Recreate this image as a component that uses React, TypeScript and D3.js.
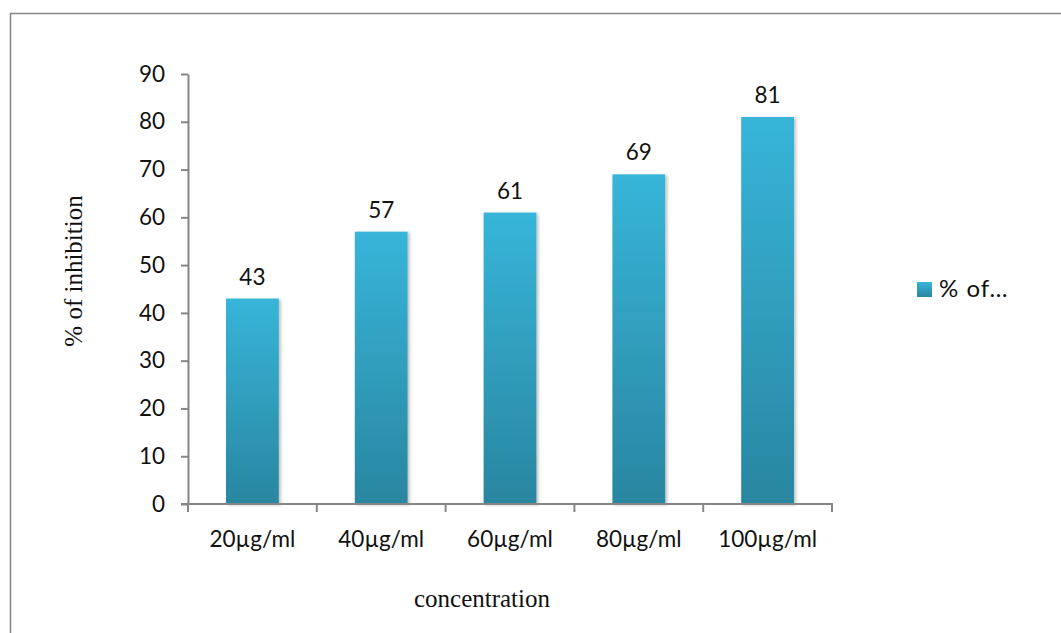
import React, { useEffect, useRef } from 'react';
import * as d3 from 'd3';

const categories = ['20µg/ml', '40µg/ml', '60µg/ml', '80µg/ml', '100µg/ml'];
const inhibition = [43, 57, 61, 69, 81];
const yTicks = [0, 10, 20, 30, 40, 50, 60, 70, 80, 90];

const App = () => {
  const svgRef = useRef<SVGSVGElement>(null);

  useEffect(() => {
    const width = 1061;
    const height = 633;
    const plot = { left: 188, right: 832, top: 74, bottom: 504 };
    const font = 'Lato, "Open Sans", sans-serif';
    const serif = '"Liberation Serif", "Times New Roman", serif';
    const axisColor = '#868686';
    const fs = 22.5;

    const svg = d3.select(svgRef.current);
    svg.selectAll('*').remove();
    svg.attr('width', width).attr('height', height);

    // gradient for bars
    const defs = svg.append('defs');
    const grad = defs.append('linearGradient')
      .attr('id', 'barGrad')
      .attr('x1', 0).attr('y1', 0).attr('x2', 0).attr('y2', 1);
    grad.append('stop').attr('offset', '0%').attr('stop-color', '#37b5d9');
    grad.append('stop').attr('offset', '100%').attr('stop-color', '#2986a0');

    const shadow = defs.append('filter').attr('id', 'shadow')
      .attr('x', '-20%').attr('y', '-20%').attr('width', '150%').attr('height', '150%');
    shadow.append('feDropShadow')
      .attr('dx', 2).attr('dy', 1).attr('stdDeviation', 1.5)
      .attr('flood-color', '#000').attr('flood-opacity', 0.25);

    svg.append('rect').attr('width', width).attr('height', height).attr('fill', '#fff');

    // outer border
    svg.append('path')
      .attr('d', `M${width},13.5 H10.5 V${height}`)
      .attr('fill', 'none')
      .attr('stroke', axisColor)
      .attr('stroke-width', 1.5);

    const x = d3.scaleBand()
      .domain(categories)
      .range([plot.left, plot.right])
      .paddingInner(0.59)
      .paddingOuter(0.295);

    const y = d3.scaleLinear()
      .domain([0, 90])
      .range([plot.bottom, plot.top]);

    // bars
    svg.selectAll('rect.bar')
      .data(inhibition)
      .enter()
      .append('rect')
      .attr('class', 'bar')
      .attr('x', (d, i) => x(categories[i]))
      .attr('y', d => y(d))
      .attr('width', x.bandwidth())
      .attr('height', d => y(0) - y(d))
      .attr('fill', 'url(#barGrad)')
      .attr('filter', 'url(#shadow)');

    // data labels
    svg.selectAll('text.lbl')
      .data(inhibition)
      .enter()
      .append('text')
      .attr('class', 'lbl')
      .attr('x', (d, i) => x(categories[i]) + x.bandwidth() / 2)
      .attr('y', d => y(d) - 14)
      .attr('text-anchor', 'middle')
      .attr('font-family', font)
      .attr('font-size', fs)
      .attr('fill', '#111')
      .text(d => d);

    // y axis
    const yAxis = d3.axisLeft(y).tickValues(yTicks).tickSize(7).tickPadding(16).tickSizeOuter(0);
    const gy = svg.append('g')
      .attr('transform', `translate(${plot.left},0)`)
      .call(yAxis);
    gy.selectAll('line, path').attr('stroke', axisColor).attr('stroke-width', 2);
    gy.selectAll('text')
      .attr('font-family', font)
      .attr('font-size', fs)
      .attr('fill', '#111');

    // x axis
    const gx = svg.append('g').attr('transform', `translate(0,${plot.bottom})`);
    gx.append('line')
      .attr('x1', plot.left - 7).attr('x2', plot.right + 1)
      .attr('stroke', axisColor).attr('stroke-width', 2);
    const bounds = d3.range(categories.length + 1).map(i => plot.left + i * x.step());
    gx.selectAll('line.tick')
      .data(bounds)
      .enter()
      .append('line')
      .attr('class', 'tick')
      .attr('x1', d => d).attr('x2', d => d)
      .attr('y1', 0).attr('y2', 8)
      .attr('stroke', axisColor).attr('stroke-width', 2);
    gx.selectAll('text')
      .data(categories)
      .enter()
      .append('text')
      .attr('x', d => x(d) + x.bandwidth() / 2)
      .attr('y', 43)
      .attr('text-anchor', 'middle')
      .attr('font-family', font)
      .attr('font-size', fs)
      .attr('fill', '#111')
      .text(d => d);

    // axis titles
    svg.append('text')
      .attr('x', 482)
      .attr('y', 607)
      .attr('text-anchor', 'middle')
      .attr('font-family', serif)
      .attr('font-size', 25)
      .attr('fill', '#111')
      .text('concentration');

    svg.append('text')
      .attr('transform', 'translate(82,271) rotate(-90)')
      .attr('text-anchor', 'middle')
      .attr('font-family', serif)
      .attr('font-size', 25)
      .attr('fill', '#111')
      .text('% of inhibition');

    // legend
    svg.append('rect')
      .attr('x', 917).attr('y', 282)
      .attr('width', 15).attr('height', 15)
      .attr('fill', 'url(#barGrad)');
    svg.append('text')
      .attr('x', 939)
      .attr('y', 297)
      .attr('font-family', font)
      .attr('font-size', 24)
      .attr('letter-spacing', 1)
      .attr('fill', '#111')
      .text('% of…');
  }, []);

  return <svg ref={svgRef} style={{ display: 'block', position: 'absolute', left: 0, top: 0 }}></svg>;
};

export default App;
